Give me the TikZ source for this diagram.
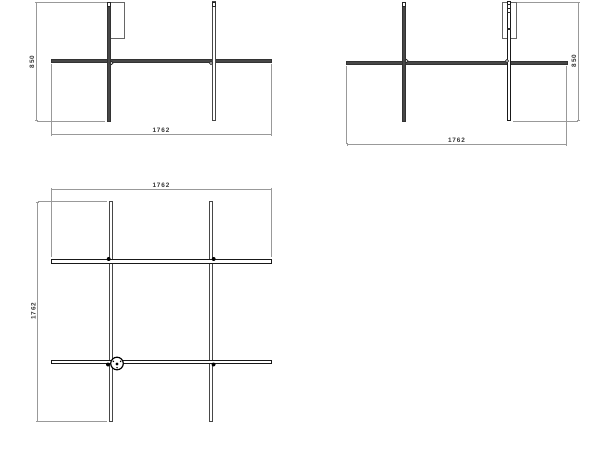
\documentclass[tikz,border=0pt]{standalone}
\usepackage{fontspec}
\setmainfont{Liberation Sans}
\usetikzlibrary{arrows.meta}
\newcommand{\hrod}[3][lamp]{\draw[#1] (#2,#3) rectangle ++(220.5,3.2);}
\newcommand{\vrod}[3][lamp]{\draw[#1] (#2,#3) rectangle ++(3.2,119);}
\begin{document}
\begin{tikzpicture}[x=1pt, y=-1pt,
	 lamp/.style={draw=black!90, line width=1pt, fill=white},
	 lampside/.style={draw=black!72, line width=1pt, fill=white},
	 lampdark/.style={draw=black!80, line width=0.8pt, fill=black!72},
	 plate/.style={draw=black!60, line width=0.8pt, fill=white},
	 joint/.style={draw=black!85, line width=0.7pt, fill=white},
	 dimline/.style={draw=black!40, line width=0.8pt},
	 dimarrow/.style={dimline, {Bar[width=3.5pt]}-{Bar[width=3.5pt]}},
	 dimtext/.style={font=\fontsize{6.4}{7}\selectfont\bfseries\addfontfeature{LetterSpace=14}, text=black!80, inner sep=0pt}]
	\useasboundingbox (0,0) rectangle (600,449);
	% front view
	\draw[plate] (110,2) rectangle (124,38);
	\hrod[lampdark]{51}{59.2}
	\vrod[lampdark]{107.3}{2}
	\vrod[lampside]{212.3}{2}
	\draw[joint] (107.3,2) rectangle ++(3.2,4);
	\draw[joint] (212.3,2) rectangle ++(3.2,4);
	\draw[joint] (111.5,63) circle (1.6);
	\draw[joint] (211,63) circle (1.6);
	\coordinate (fronttop) at (36.7,2);
	\coordinate (frontbot) at (36.7,121);
	\coordinate (frontleft) at (51,134.5);
	\coordinate (frontright) at (271.5,134.5);
	\draw[dimline] (fronttop) -- (107,2);
	\draw[dimline] (frontbot) -- (105,121);
	\draw[dimline] (51,64) -- (frontleft);
	\draw[dimline] (271.5,64) -- (frontright);
	\draw[dimarrow] (fronttop) -- (frontbot);
	\draw[dimarrow] (frontleft) -- (frontright);
	\node[dimtext, rotate=90] (frontheight) at (32,62) {850};
	\node[dimtext] (frontwidth) at (161,130) {1762};
	% back view
	\draw[plate] (502.3,2) rectangle (516.7,38);
	\hrod[lampdark]{346.5}{61.5}
	\vrod[lampdark]{402.5}{2}
	\vrod{507.3}{2}
	\draw[joint] (402.5,2) rectangle ++(3.2,4);
	\draw[joint] (507.3,4) rectangle ++(3.2,4);
	\draw[joint] (507.3,8) rectangle ++(3.2,4);
	\draw[joint] (507.3,28) rectangle ++(3.2,1.5);
	\draw[joint] (406.5,61) circle (1.6);
	\draw[joint] (507,61) circle (1.6);
	\coordinate (backtop) at (578.3,2);
	\coordinate (backbot) at (578.3,121);
	\coordinate (backleft) at (346.7,144.5);
	\coordinate (backright) at (566.7,144.5);
	\draw[dimline] (516.7,2) -- (backtop);
	\draw[dimline] (513,121) -- (backbot);
	\draw[dimline] (346.7,66) -- (backleft);
	\draw[dimline] (566.7,66) -- (backright);
	\draw[dimarrow] (backtop) -- (backbot);
	\draw[dimarrow] (backleft) -- (backright);
	\node[dimtext, rotate=90] (backheight) at (574,61) {850};
	\node[dimtext] (backwidth) at (456.5,140) {1762};
	% top view
	\foreach \xpos in {109.7,209.7} {\draw[lampside] (\xpos,201.7) rectangle ++(3.2,220);}
	\foreach \ypos in {260,360} {\hrod{51}{\ypos}}
	\foreach \xpos in {109.7,209.7} {\draw[lampside] (\xpos,264) -- ++(0,95.5) (\xpos+3.2,264) -- ++(0,95.5);}
	\foreach \xpos/\ypos in {108.7/259, 213.7/259, 213.5/364.5, 108/364.5}
		\fill (\xpos,\ypos) circle (2);
	\draw[black, line width=1.2pt, fill=white] (117,363.5) circle (6.3);
	\fill (117,364) circle (1.7);
	\foreach \ang in {90,210,330}
		\fill (117,363.5) ++(\ang:4.2) circle (0.8);
	\coordinate (topleft) at (51,189.3);
	\coordinate (topright) at (271.5,189.3);
	\coordinate (sideup) at (37.7,201.7);
	\coordinate (sidedown) at (37.7,421.7);
	\draw[dimline] (topleft) -- (51,257);
	\draw[dimline] (topright) -- (271.5,257);
	\draw[dimline] (sideup) -- (107,201.7);
	\draw[dimline] (sidedown) -- (107,421.7);
	\draw[dimarrow] (topleft) -- (topright);
	\draw[dimarrow] (sideup) -- (sidedown);
	\node[dimtext] (topwidth) at (161,185) {1762};
	\node[dimtext, rotate=90] (topheight) at (33.5,311) {1762};
\end{tikzpicture}
\end{document}
